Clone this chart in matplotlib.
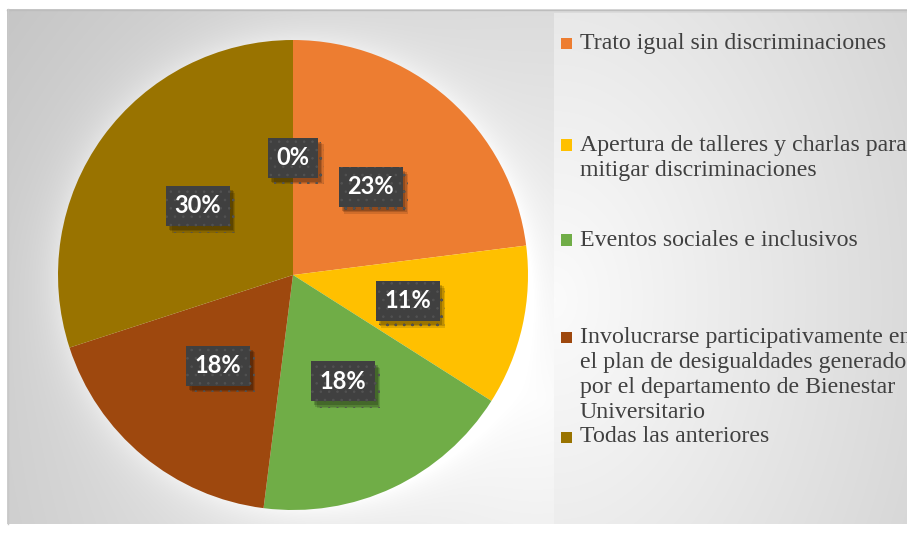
import numpy as np
import matplotlib.pyplot as plt
import matplotlib.patheffects as pe
from matplotlib.patches import Rectangle

# data
categories = [
    "Trato igual sin discriminaciones",
    "Apertura de talleres y charlas para\nmitigar discriminaciones",
    "Eventos sociales e inclusivos",
    "Involucrarse participativamente en\nel plan de desigualdades generado\npor el departamento de Bienestar\nUniversitario",
    "Todas las anteriores",
]
values = [23, 11, 18, 18, 30, 0]   # last one is the empty slice labelled 0%
colors = ["#ED7D31", "#FFC000", "#70AD47", "#9E480E", "#997300", "#264478"]

plt.rcParams["hatch.linewidth"] = 0.6

W, H = 907, 534
fig = plt.figure(figsize=(W / 100, H / 100), dpi=100)
fig.patch.set_facecolor("white")

# background: grey radial gradient with soft glow round the pie and a lighter legend panel
bg = fig.add_axes([0, 0, 1, 1])
bg.set_axis_off()
yy, xx = np.mgrid[0:H, 0:W] + 0.5
val = 0.985 - 0.21 * (np.hypot(xx - 540, yy - 400) / 660)
dpie = np.hypot(xx - 293, yy - 275) - 235
val += 0.07 * np.exp(-np.clip(dpie, 0, None) / 18)
panel = (xx >= 554) & (yy >= 13) & (yy <= 525)
pval = 0.985 - 0.13 * (np.hypot(xx - 554, (yy - 300) * 0.7) / 360)
val = np.where(panel, pval, val)
val = np.clip(val, 0, 1)
frame = (xx >= 7) & (yy >= 9) & (yy <= 524)
val = np.where(frame, val, 1.0)
img = np.dstack([val, val, val])
bg.imshow(img, extent=[0, W, H, 0], origin="upper", aspect="auto", interpolation="bilinear")
bg.plot([7, W], [9.5, 9.5], color="#bdbdbd", lw=1)
bg.plot([7.5, 7.5], [9, 524], color="#c8c8c8", lw=1)
bg.set_xlim(0, W)
bg.set_ylim(H, 0)

# pie
cx, cy, r = 293, 275, 235
ax = fig.add_axes([(cx - r) / W, (H - cy - r) / H, 2 * r / W, 2 * r / H])
wedges, texts, autotexts = ax.pie(
    values, colors=colors, startangle=90, counterclock=False,
    autopct="%1.0f%%", pctdistance=0.5,
    wedgeprops=dict(linewidth=0),
    textprops=dict(color="white", fontsize=17, fontweight="bold", family="Lato"),
)
ax.set_xlim(-1, 1)
ax.set_ylim(-1, 1)
ax.set_aspect("equal")

for t in autotexts:
    t.set_bbox(dict(boxstyle="square,pad=0.36", facecolor="#404040",
                    edgecolor="#525252", linewidth=0, hatch=".."))
    t.get_bbox_patch().set_path_effects([
        pe.SimplePatchShadow(offset=(4, -5), shadow_rgbFace="black", alpha=0.12),
        pe.SimplePatchShadow(offset=(3, -4), shadow_rgbFace="black", alpha=0.15),
        pe.SimplePatchShadow(offset=(2, -3), shadow_rgbFace="black", alpha=0.18),
        pe.Normal(),
    ])

# legend drawn by hand, it overflows the right edge like the original
legend_y = [43, 145, 240, 337, 437]
line_gap = 25.3
for name, col, y0 in zip(categories, colors, legend_y):
    fig.patches.append(Rectangle((561 / W, (H - y0 - 5.5) / H), 11 / W, 11 / H,
                                 transform=fig.transFigure, facecolor=col,
                                 edgecolor="none", zorder=3))
    for i, line in enumerate(name.split("\n")):
        fig.text(580 / W, (H - y0 - i * line_gap) / H, line, ha="left", va="center",
                 fontsize=17.2, family="Liberation Serif", color="#404040", zorder=4)

fig.savefig("out.png", dpi=100)
